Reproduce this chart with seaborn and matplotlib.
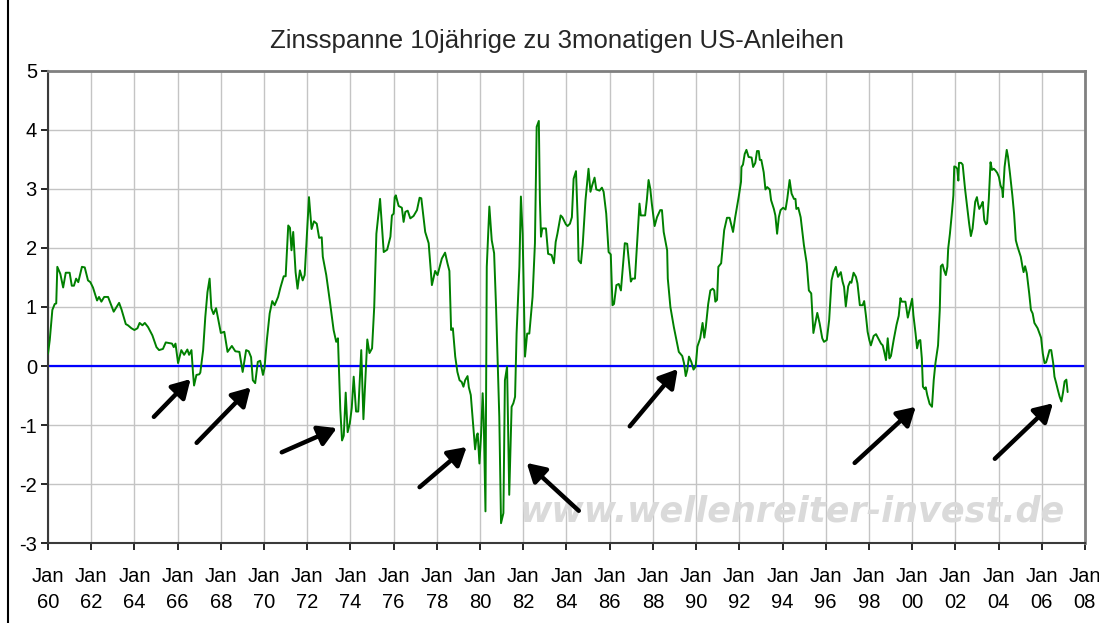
import numpy as np
import pandas as pd
import seaborn as sns
import matplotlib.pyplot as plt
from matplotlib.lines import Line2D

# Zinsspanne 10J - 3M (Dezimaljahr, Prozentpunkte)
jahre = [
    1960.00, 1960.08, 1960.20, 1960.31, 1960.38, 1960.43, 1960.57, 1960.70, 1960.82, 1961.00,
    1961.10, 1961.20, 1961.30, 1961.40, 1961.57, 1961.70, 1961.85, 1961.96, 1962.08, 1962.27,
    1962.36, 1962.47, 1962.60, 1962.78, 1963.04, 1963.29, 1963.40, 1963.60, 1963.70, 1963.86,
    1964.00, 1964.14, 1964.24, 1964.37, 1964.48, 1964.63, 1964.83, 1965.02, 1965.14, 1965.32,
    1965.45, 1965.60, 1965.74, 1965.82, 1965.90, 1966.02, 1966.17, 1966.30, 1966.45, 1966.53,
    1966.64, 1966.71, 1966.76, 1966.87, 1967.00, 1967.05, 1967.18, 1967.28, 1967.38, 1967.48,
    1967.56, 1967.66, 1967.78, 1967.90, 1968.00, 1968.16, 1968.31, 1968.51, 1968.67, 1968.86,
    1969.01, 1969.17, 1969.29, 1969.40, 1969.48, 1969.59, 1969.71, 1969.82, 1969.95, 1970.02,
    1970.13, 1970.26, 1970.38, 1970.49, 1970.65, 1970.76, 1970.91, 1971.00, 1971.12, 1971.20,
    1971.27, 1971.35, 1971.46, 1971.55, 1971.66, 1971.79, 1971.88, 1971.97, 1972.08, 1972.20,
    1972.31, 1972.44, 1972.55, 1972.67, 1972.72, 1972.88, 1973.06, 1973.22, 1973.34, 1973.42,
    1973.53, 1973.61, 1973.69, 1973.78, 1973.87, 1973.97, 1974.06, 1974.15, 1974.26, 1974.36,
    1974.50, 1974.60, 1974.78, 1974.88, 1975.00, 1975.10, 1975.20, 1975.37, 1975.54, 1975.70,
    1975.85, 1975.92, 1976.00, 1976.05, 1976.10, 1976.23, 1976.38, 1976.46, 1976.54, 1976.65,
    1976.77, 1976.92, 1977.08, 1977.20, 1977.28, 1977.46, 1977.62, 1977.77, 1977.92, 1978.03,
    1978.23, 1978.38, 1978.49, 1978.58, 1978.66, 1978.74, 1978.85, 1978.95, 1979.05, 1979.15,
    1979.23, 1979.31, 1979.42, 1979.48, 1979.57, 1979.66, 1979.77, 1979.85, 1979.89, 1979.97,
    1980.05, 1980.12, 1980.17, 1980.25, 1980.31, 1980.43, 1980.54, 1980.65, 1980.74, 1980.82,
    1980.89, 1980.97, 1981.08, 1981.15, 1981.25, 1981.35, 1981.46, 1981.54, 1981.62, 1981.69,
    1981.82, 1981.89, 1981.97, 1982.08, 1982.18, 1982.28, 1982.43, 1982.54, 1982.62, 1982.72,
    1982.77, 1982.82, 1982.88, 1983.05, 1983.15, 1983.31, 1983.42, 1983.50, 1983.58, 1983.73,
    1983.81, 1983.97, 1984.05, 1984.16, 1984.25, 1984.33, 1984.44, 1984.52, 1984.56, 1984.67,
    1984.75, 1984.88, 1985.02, 1985.11, 1985.19, 1985.30, 1985.38, 1985.53, 1985.64, 1985.72,
    1985.84, 1985.95, 1986.05, 1986.13, 1986.20, 1986.31, 1986.42, 1986.52, 1986.70, 1986.81,
    1986.94, 1986.98, 1987.05, 1987.17, 1987.28, 1987.38, 1987.44, 1987.64, 1987.72, 1987.80,
    1987.88, 1987.95, 1988.08, 1988.19, 1988.34, 1988.42, 1988.50, 1988.66, 1988.69, 1988.81,
    1988.97, 1989.09, 1989.20, 1989.36, 1989.44, 1989.52, 1989.59, 1989.67, 1989.78, 1989.88,
    1989.98, 1990.06, 1990.19, 1990.30, 1990.38, 1990.45, 1990.56, 1990.66, 1990.77, 1990.84,
    1990.89, 1990.97, 1991.03, 1991.16, 1991.30, 1991.43, 1991.55, 1991.71, 1991.81, 1991.97,
    1992.08, 1992.10, 1992.17, 1992.25, 1992.33, 1992.43, 1992.57, 1992.64, 1992.74, 1992.82,
    1992.90, 1992.95, 1993.02, 1993.13, 1993.21, 1993.29, 1993.41, 1993.47, 1993.60, 1993.67,
    1993.75, 1993.83, 1993.91, 1994.03, 1994.14, 1994.22, 1994.33, 1994.42, 1994.53, 1994.60,
    1994.64, 1994.73, 1994.84, 1994.91, 1994.99, 1995.12, 1995.22, 1995.33, 1995.43, 1995.50,
    1995.61, 1995.72, 1995.84, 1995.92, 1996.05, 1996.16, 1996.27, 1996.36, 1996.47, 1996.57,
    1996.70, 1996.78, 1996.85, 1996.93, 1997.04, 1997.13, 1997.19, 1997.29, 1997.40, 1997.47,
    1997.58, 1997.71, 1997.78, 1997.86, 1997.94, 1998.02, 1998.09, 1998.22, 1998.33, 1998.43,
    1998.56, 1998.64, 1998.71, 1998.79, 1998.87, 1998.95, 1999.02, 1999.15, 1999.28, 1999.38,
    1999.46, 1999.52, 1999.69, 1999.80, 1999.91, 2000.00, 2000.06, 2000.16, 2000.23, 2000.31,
    2000.38, 2000.45, 2000.50, 2000.58, 2000.63, 2000.70, 2000.81, 2000.92, 2001.00, 2001.08,
    2001.20, 2001.28, 2001.33, 2001.41, 2001.48, 2001.56, 2001.63, 2001.67, 2001.75, 2001.83,
    2001.91, 2001.95, 2002.02, 2002.09, 2002.14, 2002.17, 2002.27, 2002.34, 2002.45, 2002.56,
    2002.64, 2002.72, 2002.80, 2002.88, 2002.92, 2003.00, 2003.05, 2003.11, 2003.20, 2003.27,
    2003.34, 2003.42, 2003.47, 2003.55, 2003.63, 2003.70, 2003.78, 2003.86, 2003.94, 2004.02,
    2004.09, 2004.17, 2004.20, 2004.28, 2004.38, 2004.44, 2004.53, 2004.64, 2004.72, 2004.80,
    2004.88, 2005.03, 2005.11, 2005.16, 2005.23, 2005.31, 2005.42, 2005.50, 2005.58, 2005.66,
    2005.81, 2005.97, 2006.05, 2006.13, 2006.20, 2006.28, 2006.36, 2006.44, 2006.53, 2006.59,
    2006.67, 2006.75, 2006.83, 2006.91, 2006.98, 2007.06, 2007.14, 2007.20,
]
spanne = [
    0.21, 0.44, 0.95, 1.05, 1.06, 1.68, 1.56, 1.33, 1.58, 1.58,
    1.36, 1.36, 1.48, 1.42, 1.68, 1.67, 1.45, 1.42, 1.33, 1.11,
    1.17, 1.09, 1.17, 1.17, 0.92, 1.07, 0.96, 0.71, 0.69, 0.64,
    0.61, 0.64, 0.73, 0.69, 0.73, 0.66, 0.52, 0.32, 0.27, 0.29,
    0.40, 0.39, 0.38, 0.32, 0.38, 0.05, 0.27, 0.19, 0.28, 0.19,
    0.27, -0.11, -0.33, -0.15, -0.14, -0.11, 0.27, 0.83, 1.25, 1.48,
    0.98, 0.88, 0.98, 0.75, 0.56, 0.58, 0.24, 0.34, 0.25, 0.24,
    -0.10, 0.27, 0.25, 0.15, -0.24, -0.29, 0.07, 0.09, -0.15, -0.04,
    0.44, 0.89, 1.10, 1.03, 1.17, 1.33, 1.52, 1.52, 2.38, 2.34,
    1.96, 2.27, 1.59, 1.31, 1.62, 1.45, 1.54, 2.13, 2.86, 2.32,
    2.45, 2.41, 2.17, 2.18, 1.85, 1.54, 1.06, 0.61, 0.41, 0.47,
    -0.74, -1.26, -1.18, -0.45, -1.12, -0.97, -0.71, -0.18, -0.77, -0.77,
    0.27, -0.90, 0.45, 0.22, 0.30, 1.00, 2.24, 2.83, 1.93, 1.97,
    2.19, 2.55, 2.58, 2.86, 2.89, 2.71, 2.68, 2.44, 2.61, 2.63,
    2.50, 2.54, 2.64, 2.85, 2.84, 2.27, 2.08, 1.37, 1.61, 1.54,
    1.82, 1.92, 1.74, 1.61, 0.61, 0.64, 0.16, -0.10, -0.24, -0.27,
    -0.35, -0.24, -0.17, -0.36, -0.49, -0.91, -1.41, -1.17, -1.14, -1.65,
    -1.14, -0.46, -0.91, -2.46, 1.68, 2.70, 2.13, 1.91, 1.00, -0.01,
    -0.86, -2.66, -2.49, -0.24, -0.01, -2.18, -0.69, -0.63, -0.52, 0.55,
    1.68, 2.87, 2.24, 0.16, 0.55, 0.55, 1.17, 2.08, 4.05, 4.15,
    2.81, 2.19, 2.33, 2.33, 1.90, 1.88, 1.74, 2.10, 2.24, 2.55,
    2.52, 2.40, 2.37, 2.41, 2.52, 3.17, 3.30, 2.47, 1.79, 1.74,
    2.05, 2.81, 3.34, 2.95, 3.06, 3.19, 2.99, 2.97, 3.02, 2.95,
    2.58, 1.93, 1.89, 1.03, 1.05, 1.37, 1.39, 1.28, 2.08, 2.07,
    1.57, 1.43, 1.48, 1.48, 2.16, 2.75, 2.55, 2.55, 2.81, 3.15,
    3.00, 2.75, 2.37, 2.52, 2.64, 2.64, 2.27, 1.96, 1.48, 1.00,
    0.66, 0.44, 0.24, 0.17, 0.05, -0.17, -0.07, 0.16, 0.07, -0.06,
    -0.01, 0.33, 0.47, 0.73, 0.48, 0.66, 1.05, 1.28, 1.31, 1.28,
    1.09, 1.12, 1.68, 1.74, 2.30, 2.51, 2.51, 2.27, 2.52, 2.86,
    3.12, 3.37, 3.41, 3.59, 3.66, 3.54, 3.53, 3.37, 3.44, 3.64,
    3.64, 3.49, 3.49, 3.28, 2.99, 3.03, 2.99, 2.81, 2.66, 2.55,
    2.24, 2.52, 2.64, 2.68, 2.65, 2.83, 3.15, 2.92, 2.83, 2.83,
    2.66, 2.68, 2.52, 2.30, 2.05, 1.74, 1.28, 1.23, 0.56, 0.69,
    0.90, 0.72, 0.47, 0.41, 0.44, 0.78, 1.45, 1.59, 1.68, 1.51,
    1.59, 1.43, 1.34, 1.01, 1.35, 1.43, 1.41, 1.58, 1.51, 1.40,
    1.03, 1.03, 1.10, 0.86, 0.58, 0.44, 0.35, 0.51, 0.54, 0.47,
    0.38, 0.35, 0.24, 0.10, 0.47, 0.13, 0.17, 0.45, 0.70, 0.85,
    1.15, 1.09, 1.09, 0.82, 1.00, 1.14, 0.86, 0.55, 0.30, 0.43,
    0.44, 0.13, -0.35, -0.39, -0.36, -0.49, -0.64, -0.69, -0.24, 0.05,
    0.35, 0.95, 1.69, 1.72, 1.62, 1.54, 1.68, 1.99, 2.24, 2.55,
    2.89, 3.38, 3.37, 3.34, 3.14, 3.44, 3.44, 3.41, 3.00, 2.66,
    2.41, 2.20, 2.33, 2.64, 2.78, 2.86, 2.75, 2.66, 2.72, 2.78,
    2.47, 2.40, 2.42, 2.83, 3.45, 3.32, 3.34, 3.31, 3.27, 3.20,
    3.06, 2.99, 2.86, 3.37, 3.66, 3.54, 3.26, 2.89, 2.58, 2.13,
    2.02, 1.85, 1.68, 1.59, 1.69, 1.57, 1.23, 0.95, 0.89, 0.73,
    0.64, 0.48, 0.21, 0.05, 0.06, 0.16, 0.27, 0.27, 0.05, -0.18,
    -0.29, -0.41, -0.52, -0.60, -0.46, -0.26, -0.23, -0.44,
]

# Pfeile zu den Inversionen: (Start x, Start y, Spitze x, Spitze y)
pfeile = [
    (1964.9, -0.86, 1966.6, -0.22),
    (1966.88, -1.30, 1969.38, -0.36),
    (1970.82, -1.46, 1973.37, -1.05),
    (1977.2, -2.05, 1979.38, -1.37),
    (1984.57, -2.45, 1982.16, -1.64),
    (1986.93, -1.02, 1989.15, -0.05),
    (1997.34, -1.64, 2000.17, -0.69),
    (2003.83, -1.57, 2006.52, -0.63),
]

x_ticks = list(range(1960, 2009, 2))
x_labels = [f"Jan\n{j % 100:02d}" for j in x_ticks]
y_ticks = list(range(-3, 6))

df = pd.DataFrame({'Jahr': jahre, 'Spanne': spanne})

sns.set_style('white')
plt.rcParams['font.family'] = ['Liberation Sans', 'DejaVu Sans']
plt.rcParams['axes.unicode_minus'] = False

fig = plt.figure(figsize=(10.99, 6.23), dpi=100)
ax = fig.add_axes([0.0437, 0.128, 0.9435, 0.7585])

ax.grid(True, color='#c4c4c4', lw=1.0)
ax.set_axisbelow(True)

# Wasserzeichen
ax.text(0.718, 0.068, 'www.wellenreiter-invest.de', transform=ax.transAxes,
        ha='center', va='center', fontsize=25.2, style='oblique', fontweight='bold',
        family='DejaVu Sans', color='#dadada', zorder=1)

ax.axhline(0, color='#0000ff', lw=1.6, zorder=2)
sns.lineplot(data=df, x='Jahr', y='Spanne', color='#008000', lw=1.4,
             estimator=None, ax=ax, zorder=3)

for x0, y0, x1, y1 in pfeile:
    ax.annotate('', xy=(x1, y1), xytext=(x0, y0),
                arrowprops=dict(arrowstyle='-|>,head_length=0.6,head_width=0.35',
                                lw=3.2, color='black', mutation_scale=18,
                                shrinkA=0, shrinkB=0, capstyle='round'),
                zorder=4)

ax.set_xlim(1960, 2008)
ax.set_ylim(-3, 5)
ax.set_xticks(x_ticks)
ax.set_xticklabels(x_labels)
ax.set_yticks(y_ticks)
ax.set_yticklabels([str(v) for v in y_ticks])
ax.set_xlabel('')
ax.set_ylabel('')
ax.tick_params(axis='both', labelsize=14.5, colors='black', direction='out',
               length=5, width=1.2, left=True, bottom=True)
ax.tick_params(axis='x', pad=12)
ax.tick_params(axis='y', pad=3)
for lbl in ax.get_xticklabels():
    lbl.set_linespacing(1.45)

for s in ['left', 'bottom']:
    ax.spines[s].set_color('#3a3a3a')
    ax.spines[s].set_linewidth(1.5)
for s in ['top', 'right']:
    ax.spines[s].set_color('#808080')
    ax.spines[s].set_linewidth(2)

fig.text(0.507, 0.934, 'Zinsspanne 10jährige zu 3monatigen US-Anleihen',
         ha='center', va='center', fontsize=18.5)

fig.add_artist(Line2D([7.5 / 1099, 7.5 / 1099], [0, 1], color='black', lw=1.5,
                      transform=fig.transFigure))

fig.savefig('out.png', dpi=100)
